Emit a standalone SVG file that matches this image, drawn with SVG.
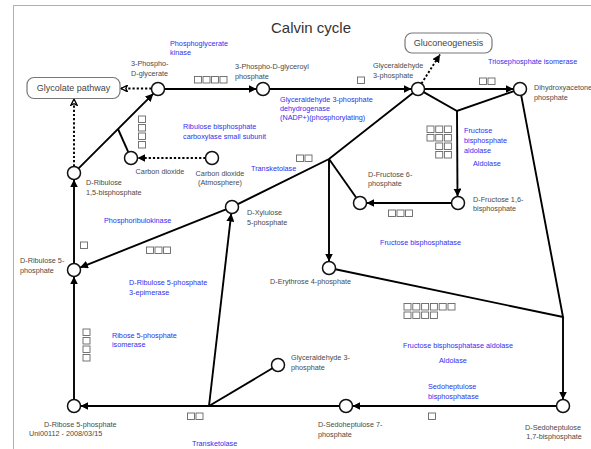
<svg xmlns="http://www.w3.org/2000/svg" xmlns:xlink="http://www.w3.org/1999/xlink" width="591" height="449" viewBox="0 0 591 449">
  <style>
    text { font-family: "Liberation Sans", Arial, sans-serif; }
    .title { font-size: 15px; fill: #333; }
    .lbl { font-size: 7.25px; fill: #4a4a4a; }
    .enz { font-size: 7.25px; fill: #2f2ff0; }
    .ext { font-size: 9px; fill: #444; }
    .node { fill: #fff; stroke: #111; stroke-width: 1.5; }
    .box { fill: #fff; stroke: #777; stroke-width: 1.2; rx: 7; }
    .gene { fill: #fff; stroke: #666; stroke-width: 0.9; }
    .edge { fill: none; stroke: #000; stroke-width: 1.9; }
    .dot { fill: none; stroke: #000; stroke-width: 1.9; stroke-dasharray: 2.2 2; }
  </style>
  <defs>
    <marker id="arr" viewBox="0 0 10 10" refX="10" refY="5" markerWidth="4.2" markerHeight="4.2" orient="auto" markerUnits="strokeWidth">
      <path d="M0,0 L10,5 L0,10 Z" fill="#000"/>
    </marker>
    <marker id="open" viewBox="0 0 10 10" refX="9" refY="5" markerWidth="4.2" markerHeight="4.2" orient="auto" markerUnits="strokeWidth">
      <path d="M1,1 L9,5 L1,9 L3,5 Z" fill="#fff" stroke="#000" stroke-width="1.6"/>
    </marker>
    <rect id="g" width="7" height="6.5"/>
  </defs>

  <!-- frame -->
  <rect x="13.5" y="5.5" width="620" height="480" fill="none" stroke="#b0b0b0" stroke-width="1"/>

  <text class="title" x="311" y="33" text-anchor="middle">Calvin cycle</text>

  <!-- connectors -->
  <g id="connectors">
    <line class="edge" x1="164.5" y1="89" x2="256.5" y2="89" marker-end="url(#arr)"/>
    <line class="edge" x1="269.5" y1="89" x2="411.5" y2="89" marker-end="url(#arr)"/>
    <line class="edge" x1="424.5" y1="89" x2="513.5" y2="89" marker-end="url(#arr)"/>
    <line class="dot" x1="421.5" y1="83.5" x2="440" y2="54.5" marker-end="url(#arr)"/>
    <line class="dot" x1="151.5" y1="88.5" x2="121" y2="88.5" marker-end="url(#open)"/>
    <line class="dot" x1="74" y1="166.5" x2="74" y2="99" marker-end="url(#open)"/>
    <line class="edge" x1="78.6" y1="168.4" x2="153.4" y2="93.6" marker-end="url(#arr)"/>
    <line class="edge" x1="118" y1="129" x2="128.3" y2="152.1"/>
    <line class="dot" x1="205.5" y1="158" x2="137.5" y2="158" marker-end="url(#arr)"/>
    <line class="edge" x1="74" y1="263.5" x2="74" y2="179.5" marker-end="url(#arr)"/>
    <line class="edge" x1="74" y1="399.5" x2="74" y2="276.5" marker-end="url(#arr)"/>
    <line class="edge" x1="226" y1="209.4" x2="80" y2="267.6" marker-end="url(#arr)"/>
    <polyline class="edge" points="412.9,93 329,159 226.2,209.9" marker-end="url(#arr)"/>
    <line class="edge" x1="329" y1="159" x2="329" y2="261.5" marker-end="url(#arr)"/>
    <line class="edge" x1="329" y1="159" x2="356.3" y2="197.7"/>
    <line class="edge" x1="451.5" y1="203" x2="366.5" y2="203" marker-end="url(#arr)"/>
    <polyline class="edge" points="423.7,92.2 457,111 513.9,91.1"/>
    <line class="edge" x1="457" y1="111" x2="457.5" y2="196.5" marker-end="url(#arr)"/>
    <polyline class="edge" points="521.2,95.4 563,317 335.4,269.3"/>
    <line class="edge" x1="563" y1="317" x2="563" y2="399.5" marker-end="url(#arr)"/>
    <line class="edge" x1="556.5" y1="406" x2="352.5" y2="406" marker-end="url(#arr)"/>
    <line class="edge" x1="339.5" y1="406" x2="80.5" y2="406" marker-end="url(#arr)"/>
    <line class="edge" x1="209" y1="406" x2="231.25" y2="213.5" marker-end="url(#arr)"/>
    <line class="edge" x1="209" y1="406" x2="272.4" y2="368.3"/>
  </g>

  <!-- external pathways -->
  <g id="glycolate">
    <rect class="box" x="27" y="77.5" width="93" height="21"/>
    <text class="ext" x="73.5" y="91.2" text-anchor="middle">Glycolate pathway</text>
  </g>
  <g id="gluconeogenesis">
    <rect class="box" x="405" y="33" width="87" height="20"/>
    <text class="ext" x="448.5" y="46.2" text-anchor="middle">Gluconeogenesis</text>
  </g>

  <!-- metabolites -->
  <g id="pga">
    <circle class="node" cx="158" cy="89" r="6.5"/>
    <text class="lbl" x="131" y="66">3-Phospho-</text>
    <text class="lbl" x="131" y="76">D-glycerate</text>
  </g>
  <g id="bpg">
    <circle class="node" cx="263" cy="89" r="6.5"/>
    <text class="lbl" x="235" y="69">3-Phospho-D-glyceroyl</text>
    <text class="lbl" x="235" y="79">phosphate</text>
  </g>
  <g id="gap">
    <circle class="node" cx="418" cy="89" r="6.5"/>
    <text class="lbl" x="373" y="67.5">Glyceraldehyde</text>
    <text class="lbl" x="373" y="77.5">3-phosphate</text>
  </g>
  <g id="dhap">
    <circle class="node" cx="520" cy="89" r="6.5"/>
    <text class="lbl" x="534" y="90">Dihydroxyacetone</text>
    <text class="lbl" x="534" y="100">phosphate</text>
  </g>
  <g id="rubp">
    <circle class="node" cx="74" cy="173" r="6.5"/>
    <text class="lbl" x="86" y="185">D-Ribulose</text>
    <text class="lbl" x="86" y="195">1,5-bisphosphate</text>
  </g>
  <g id="co2">
    <circle class="node" cx="131" cy="158" r="6.5"/>
    <text class="lbl" x="160" y="174" text-anchor="middle">Carbon dioxide</text>
  </g>
  <g id="co2-atm">
    <circle class="node" cx="212" cy="158" r="6.5"/>
    <text class="lbl" x="220" y="175.5" text-anchor="middle">Carbon dioxide</text>
    <text class="lbl" x="220" y="185" text-anchor="middle">(Atmosphere)</text>
  </g>
  <g id="ru5p">
    <circle class="node" cx="74" cy="270" r="6.5"/>
    <text class="lbl" x="20" y="262.5">D-Ribulose 5-</text>
    <text class="lbl" x="20" y="273">phosphate</text>
  </g>
  <g id="xu5p">
    <circle class="node" cx="232" cy="207" r="6.5"/>
    <text class="lbl" x="247" y="214.5">D-Xylulose</text>
    <text class="lbl" x="247" y="224.5">5-phosphate</text>
  </g>
  <g id="f6p">
    <circle class="node" cx="360" cy="203" r="6.5"/>
    <text class="lbl" x="368" y="176.5">D-Fructose 6-</text>
    <text class="lbl" x="368" y="186">phosphate</text>
  </g>
  <g id="fbp">
    <circle class="node" cx="458" cy="203" r="6.5"/>
    <text class="lbl" x="473" y="201.5">D-Fructose 1,6-</text>
    <text class="lbl" x="473" y="211">bisphosphate</text>
  </g>
  <g id="e4p">
    <circle class="node" cx="329" cy="268" r="6.5"/>
    <text class="lbl" x="270" y="283.5">D-Erythrose 4-phosphate</text>
  </g>
  <g id="gap2">
    <circle class="node" cx="278" cy="365" r="6.5"/>
    <text class="lbl" x="291" y="359.5">Glyceraldehyde 3-</text>
    <text class="lbl" x="291" y="369.5">phosphate</text>
  </g>
  <g id="s7p">
    <circle class="node" cx="346" cy="406" r="6.5"/>
    <text class="lbl" x="318" y="426.5">D-Sedoheptulose 7-</text>
    <text class="lbl" x="318" y="436.5">phosphate</text>
  </g>
  <g id="sbp">
    <circle class="node" cx="563" cy="406" r="6.5"/>
    <text class="lbl" x="553" y="429.5" text-anchor="middle">D-Sedoheptulose</text>
    <text class="lbl" x="554" y="438.5" text-anchor="middle">1,7-bisphosphate</text>
  </g>
  <g id="r5p">
    <circle class="node" cx="74" cy="406" r="6.5"/>
    <text class="lbl" x="44" y="426.5">D-Ribose 5-phosphate</text>
    <text class="lbl" x="29" y="436">Uni00112 - 2008/03/15</text>
  </g>

  <!-- enzymes and gene boxes -->
  <g id="pgk">
    <text class="enz" x="170" y="45.5">Phosphoglycerate</text>
    <text class="enz" x="170" y="54.5">kinase</text>
    <use href="#g" class="gene" x="194.5" y="76.5"/>
    <use href="#g" class="gene" x="203" y="76.5"/>
    <use href="#g" class="gene" x="211.5" y="76.5"/>
    <use href="#g" class="gene" x="220" y="76.5"/>
  </g>
  <g id="gapdh">
    <text class="enz" x="280" y="101.5">Glyceraldehyde 3-phosphate</text>
    <text class="enz" x="280" y="110.5">dehydrogenase</text>
    <text class="enz" x="280" y="119.5">(NADP+)(phosphorylating)</text>
    <use href="#g" class="gene" x="357.5" y="77"/>
  </g>
  <g id="tpi">
    <text class="enz" x="488" y="63.5">Triosephosphate isomerase</text>
    <use href="#g" class="gene" x="479.5" y="78"/>
    <use href="#g" class="gene" x="488" y="78"/>
  </g>
  <g id="rubisco">
    <text class="enz" x="183" y="128.5">Ribulose bisphosphate</text>
    <text class="enz" x="183" y="138.5">carboxylase small subunit</text>
    <use href="#g" class="gene" x="138.5" y="116"/>
    <use href="#g" class="gene" x="138.5" y="124.5"/>
    <use href="#g" class="gene" x="138.5" y="133"/>
    <use href="#g" class="gene" x="138.5" y="141.5"/>
  </g>
  <g id="tkt1">
    <text class="enz" x="251" y="170.5">Transketolase</text>
    <use href="#g" class="gene" x="296.5" y="155"/>
    <use href="#g" class="gene" x="305" y="155"/>
  </g>
  <g id="fba">
    <text class="enz" x="464" y="132.5">Fructose</text>
    <text class="enz" x="464" y="142.5">bisphosphate</text>
    <text class="enz" x="464" y="152.5">aldolase</text>
    <text class="enz" x="473" y="165.5">Aldolase</text>
    <use href="#g" class="gene" x="427" y="126"/>
    <use href="#g" class="gene" x="435.7" y="126"/>
    <use href="#g" class="gene" x="444.4" y="126"/>
    <use href="#g" class="gene" x="427" y="134.5"/>
    <use href="#g" class="gene" x="435.7" y="134.5"/>
    <use href="#g" class="gene" x="444.4" y="134.5"/>
    <use href="#g" class="gene" x="435.7" y="143"/>
    <use href="#g" class="gene" x="444.4" y="143"/>
    <use href="#g" class="gene" x="435.7" y="151.5"/>
    <use href="#g" class="gene" x="444.4" y="151.5"/>
  </g>
  <g id="fbpase">
    <text class="enz" x="380" y="244.5">Fructose bisphosphatase</text>
    <use href="#g" class="gene" x="388.5" y="210"/>
    <use href="#g" class="gene" x="397" y="210"/>
    <use href="#g" class="gene" x="405.5" y="210"/>
  </g>
  <g id="prk">
    <text class="enz" x="104" y="222.5">Phosphoribulokinase</text>
    <use href="#g" class="gene" x="80.5" y="242"/>
  </g>
  <g id="rpe">
    <text class="enz" x="129" y="284.5">D-Ribulose 5-phosphate</text>
    <text class="enz" x="129" y="294.5">3-epimerase</text>
    <use href="#g" class="gene" x="146.5" y="247"/>
    <use href="#g" class="gene" x="155" y="247"/>
    <use href="#g" class="gene" x="163.5" y="247"/>
  </g>
  <g id="rpi">
    <text class="enz" x="112" y="337.5">Ribose 5-phosphate</text>
    <text class="enz" x="112" y="346.5">isomerase</text>
    <use href="#g" class="gene" x="83" y="329"/>
    <use href="#g" class="gene" x="83" y="337.5"/>
    <use href="#g" class="gene" x="83" y="346"/>
    <use href="#g" class="gene" x="83" y="354.5"/>
  </g>
  <g id="fba2">
    <text class="enz" x="403" y="347.5">Fructose bisphosphatase aldolase</text>
    <text class="enz" x="439" y="362.5">Aldolase</text>
    <use href="#g" class="gene" x="404" y="303.5"/>
    <use href="#g" class="gene" x="412.8" y="303.5"/>
    <use href="#g" class="gene" x="421.6" y="303.5"/>
    <use href="#g" class="gene" x="430.4" y="303.5"/>
    <use href="#g" class="gene" x="439.2" y="303.5"/>
    <use href="#g" class="gene" x="448" y="303.5"/>
    <use href="#g" class="gene" x="404" y="312"/>
    <use href="#g" class="gene" x="412.8" y="312"/>
    <use href="#g" class="gene" x="421.6" y="312"/>
    <use href="#g" class="gene" x="430.4" y="312"/>
  </g>
  <g id="sbpase">
    <text class="enz" x="428" y="388.5">Sedoheptulose</text>
    <text class="enz" x="428" y="398.5">bisphosphatase</text>
    <use href="#g" class="gene" x="428.5" y="413"/>
  </g>
  <g id="tkt2">
    <text class="enz" x="192" y="445.5">Transketolase</text>
    <use href="#g" class="gene" x="187.5" y="413"/>
    <use href="#g" class="gene" x="196" y="413"/>
  </g>
</svg>
